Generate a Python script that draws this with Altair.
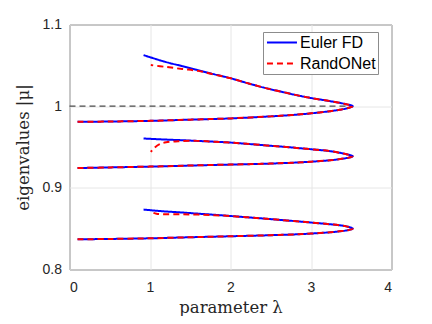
import altair as alt
import pandas as pd

# ---- data (parameter lambda, eigenvalue |mu|) ----
# shared lambda path: lower branch -> fold -> upper branch
lam_low = [0.10, 0.50, 1.00, 1.50, 2.00, 2.50, 2.82, 3.00, 3.24, 3.38, 3.44, 3.47, 3.50]
lam_fold = [3.518]
lam_up = [3.50, 3.47, 3.44, 3.38, 3.24, 3.00, 2.82, 2.62, 2.41, 2.20, 1.99]

# Euler FD (blue)
fd_lam_tail = [1.80, 1.58, 1.40, 1.17, 0.92]
fd_mu_a = [0.9808, 0.9812, 0.9820, 0.9835, 0.9850, 0.9875, 0.9896, 0.9912, 0.9939, 0.9960, 0.9972, 0.9980, 0.9990,
           1.0000,
           1.0010, 1.0017, 1.0023, 1.0036, 1.0061, 1.0100, 1.0135, 1.0180, 1.0228, 1.0285, 1.0345,
           1.0390, 1.0445, 1.0490, 1.0548, 1.0625]
fd_mu_b = [0.9242, 0.9250, 0.9260, 0.9273, 0.9285, 0.9297, 0.9310, 0.9320, 0.9338, 0.9355, 0.9364, 0.9370, 0.9378,
           0.9387,
           0.9396, 0.9404, 0.9412, 0.9425, 0.9449, 0.9473, 0.9489, 0.9506, 0.9522, 0.9539, 0.9555,
           0.9565, 0.9575, 0.9583, 0.9592, 0.9604]
fd_mu_c = [0.8370, 0.8374, 0.8382, 0.8395, 0.8407, 0.8420, 0.8431, 0.8440, 0.8456, 0.8470, 0.8478, 0.8484, 0.8492,
           0.8501,
           0.8512, 0.8520, 0.8528, 0.8539, 0.8554, 0.8575, 0.8591, 0.8607, 0.8624, 0.8640, 0.8656,
           0.8670, 0.8685, 0.8698, 0.8712, 0.8734]

# RandONet (red dashed): same path, different start on the upper branch
rn_lam_tail_a = [1.80, 1.60, 1.40, 1.20, 1.01]
rn_mu_tail_a = [1.0386, 1.0432, 1.0455, 1.0480, 1.0503]
rn_lam_tail_b = [1.80, 1.58, 1.35, 1.20, 1.12, 1.06, 1.01]
rn_mu_tail_b = [0.9565, 0.9575, 0.9571, 0.9557, 0.9535, 0.9495, 0.9440]
rn_lam_tail_c = [1.80, 1.60, 1.40, 1.20, 1.08, 1.01]
rn_mu_tail_c = [0.8665, 0.8672, 0.8676, 0.8677, 0.8683, 0.8706]

# dashed reference line |mu| = 1
ref_lam = [0.0, 3.518]
ref_mu = [1.0, 1.0]

methods = ["Euler FD", "RandONet"]

n_base = len(lam_low) + len(lam_fold) + len(lam_up)


def rows(method, curve, lams, mus):
    return [{"lam": l, "mu": m, "method": method, "curve": curve, "idx": i}
            for i, (l, m) in enumerate(zip(lams, mus))]


base_lam = lam_low + lam_fold + lam_up
fd_rows = []
for name, mus in [("a", fd_mu_a), ("b", fd_mu_b), ("c", fd_mu_c)]:
    fd_rows += rows(methods[0], name, base_lam + fd_lam_tail, mus)

rn_rows = []
rn_rows += rows(methods[1], "a", base_lam + rn_lam_tail_a, fd_mu_a[:n_base] + rn_mu_tail_a)
rn_rows += rows(methods[1], "b", base_lam + rn_lam_tail_b, fd_mu_b[:n_base] + rn_mu_tail_b)
rn_rows += rows(methods[1], "c", base_lam + rn_lam_tail_c, fd_mu_c[:n_base] + rn_mu_tail_c)

fd_df = pd.DataFrame(fd_rows)
rn_df = pd.DataFrame(rn_rows)
ref_df = pd.DataFrame({"lam": ref_lam, "mu": ref_mu})

xs = alt.Scale(domain=[0, 4], nice=False)
ys = alt.Scale(domain=[0.8, 1.1], nice=False, zero=False)

x_axis = alt.Axis(values=[0, 1, 2, 3, 4], format="~g", title="parameter λ", grid=True, ticks=False, domain=False,
                  labelPadding=11, titleX=161, titleY=43, titleBaseline="alphabetic", titleAlign="center")
y_axis = alt.Axis(values=[0.8, 0.9, 1.0, 1.1], format=".1~f", title="eigenvalues |μ|", grid=True, ticks=False,
                  domain=False, labelPadding=8, titleX=-46, titleY=122.5, titleAngle=270,
                  titleBaseline="middle", titleAlign="center")

color = alt.Color("method:N", scale=alt.Scale(domain=methods, range=["#0000ff", "#ff0000"]),
                  legend=alt.Legend(title=None, orient="none", legendX=193.5, legendY=7.5, direction="vertical",
                                    symbolType="M-0.87,0H3.13", symbolSize=225, symbolStrokeWidth=2,
                                    labelOffset=18, labelFontSize=16, labelFont="Liberation Sans",
                                    labelColor="#000000", padding=2, rowPadding=4,
                                    fillColor="#ffffff", strokeColor="#8c8c8c"))
dash = alt.StrokeDash("method:N", scale=alt.Scale(domain=methods, range=[[1, 0], [6, 4]]), legend=None)

ref_line = alt.Chart(ref_df).mark_line(color="#4a4a4a", strokeWidth=1.3, strokeDash=[6, 4]).encode(
    x=alt.X("lam:Q", scale=xs, axis=x_axis),
    y=alt.Y("mu:Q", scale=ys, axis=y_axis),
)

fd_line = alt.Chart(fd_df).mark_line(strokeWidth=2, interpolate="catmull-rom").encode(
    x=alt.X("lam:Q", scale=xs),
    y=alt.Y("mu:Q", scale=ys),
    color=color,
    strokeDash=dash,
    detail="curve:N",
    order="idx:Q",
)

rn_line = alt.Chart(rn_df).mark_line(strokeWidth=2, interpolate="catmull-rom").encode(
    x=alt.X("lam:Q", scale=xs),
    y=alt.Y("mu:Q", scale=ys),
    color=color,
    strokeDash=dash,
    detail="curve:N",
    order="idx:Q",
)

chart = alt.layer(ref_line, fd_line, rn_line).properties(
    width=322, height=245,
    autosize=alt.AutoSizeParams(type="none"),
    padding={"left": 61.5, "top": 16.5, "right": 24, "bottom": 46},
).configure_view(
    stroke="#555555", strokeWidth=1
).configure_axis(
    labelFont="Liberation Sans", labelFontSize=14, labelColor="#262626",
    titleFont="DejaVu Serif", titleFontSize=16.5, titleFontWeight="normal", titleColor="#262626",
    gridColor="#e6e6e6", gridWidth=1,
)

chart.save("out.html", embed_options={"renderer": "svg", "actions": False})
